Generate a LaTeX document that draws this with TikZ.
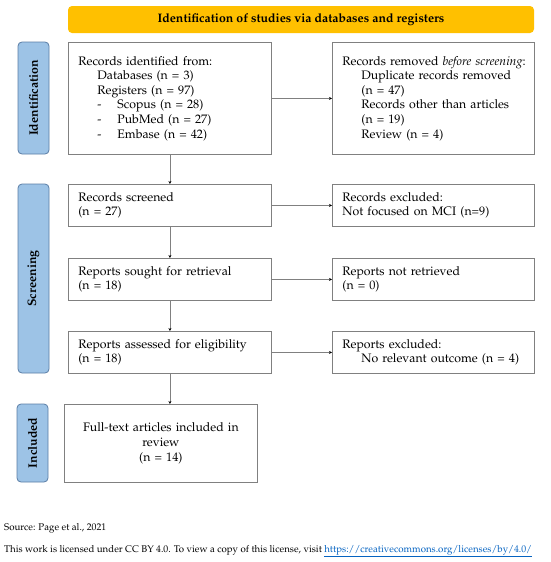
\documentclass[tikz,border=0pt]{standalone}
\usepackage[T1]{fontenc}
\usepackage{mathpazo}
\usetikzlibrary{arrows.meta}

\definecolor{hdrgold}{RGB}{255,192,0}
\definecolor{phasefill}{RGB}{157,195,230}
\definecolor{phaseline}{RGB}{90,125,165}
\definecolor{boxline}{RGB}{128,128,128}
\definecolor{linkblue}{RGB}{5,99,193}

\newcommand{\boxfont}{\fontsize{12.3}{14.6}\selectfont}
\newcommand{\footfont}{\fontsize{9.7}{11}\selectfont}
\newcommand{\ind}{\hspace*{19pt}}
\newcommand{\dashitem}{\hspace*{19pt}\makebox[20pt][l]{-}}

\begin{document}
\begin{tikzpicture}[x=1pt,y=-1pt,
    box/.style={draw=boxline, line width=0.8pt, inner xsep=10pt, inner ysep=2pt,
      align=left, anchor=north west, font=\boxfont},
    phase/.style={rotate=90, fill=phasefill, draw=phaseline, line width=0.8pt,
      rounded corners=4pt, minimum height=31pt, inner sep=0pt,
      font=\boxfont\bfseries},
    arr/.style={draw=boxline, line width=0.6pt, -{Stealth[length=3pt,width=3pt,black]}}]

  \useasboundingbox (0,0) rectangle (550,562);

  % header
  \node [fill=hdrgold, rounded corners=4pt, minimum width=466pt, minimum height=27pt,
    inner sep=0pt, font=\boxfont\bfseries] (head) at (301,19.5)
    {Identification of studies via databases and registers};

  % phases
  \node [phase, minimum width=112pt] (phIdent) at (33.5,98) {Identification};
  \node [phase, minimum width=189pt] (phScreen) at (33.5,278.5) {Screening};
  \node [phase, minimum width=78pt] (phIncl) at (32.5,443) {Included};

  % left column
  \node [box, minimum width=203pt, text width=183pt, minimum height=112pt] (ident) at (68,42)
    {Records identified from:\\
     \ind Databases (n = 3)\\
     \ind Registers (n = 97)\\
     \dashitem Scopus (n = 28)\\
     \dashitem PubMed (n = 27)\\
     \dashitem Embase (n = 42)};
  \node [box, minimum width=203pt, text width=183pt, minimum height=42pt] (screened) at (68,184)
    {Records screened\\(n = 27)};
  \node [box, minimum width=203pt, text width=183pt, minimum height=42pt] (sought) at (68,258)
    {Reports sought for retrieval\\(n = 18)};
  \node [box, minimum width=203pt, text width=183pt, minimum height=42pt] (assessed) at (68,331)
    {Reports assessed for eligibility\\(n = 18)};
  \node [box, align=center, minimum width=193pt, text width=173pt, minimum height=78pt] (incl) at (64,404)
    {Full-text articles included in\\review\\(n = 14)};

  % right column
  \node [box, minimum width=202pt, text width=182pt, minimum height=112pt] (removed) at (332,42)
    {\mbox{Records removed \emph{before screening}:}\\
     \ind Duplicate records removed\\
     \ind (n = 47)\\
     \ind Records other than articles\\
     \ind (n = 19)\\
     \ind Review (n = 4)};
  \node [box, minimum width=202pt, text width=182pt, minimum height=42pt] (excluded) at (332,184)
    {Records excluded:\\Not focused on MCI (n=9)};
  \node [box, minimum width=202pt, text width=182pt, minimum height=42pt] (notret) at (332,258)
    {Reports not retrieved\\(n = 0)};
  \node [box, minimum width=202pt, text width=182pt, minimum height=42pt] (repexcl) at (332,331)
    {Reports excluded:\\\ind No relevant outcome (n = 4)};

  % connectors
  \draw [arr] (ident.east) -- (removed.west);
  \draw [arr] (screened.east) -- (excluded.west);
  \draw [arr] (sought.east) -- (notret.west);
  \draw [arr] (assessed.east) -- (repexcl.west);
  \draw [arr] (ident.south) -- (screened.north);
  \draw [arr] (screened.south) -- (sought.north);
  \draw [arr] (sought.south) -- (assessed.north);
  \draw [arr] (assessed.south) -- (assessed.south |- incl.north);

  % footer
  \node [anchor=west, inner sep=0pt, font=\footfont] (src) at (4,528) {Source: Page et al., 2021};
  \node [anchor=west, inner sep=0pt, font=\footfont] (lic) at (4,551)
    {This work is licensed under CC BY 4.0. To view a copy of this license, visit
     \textcolor{linkblue}{\underline{https://creativecommons.org/licenses/by/4.0/}}};
\end{tikzpicture}
\end{document}
